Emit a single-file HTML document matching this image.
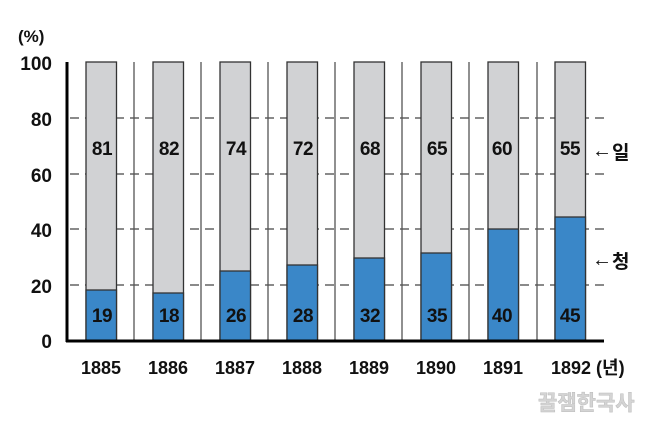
<!DOCTYPE html>
<html><head><meta charset="utf-8"><style>
html,body{margin:0;padding:0;background:#fff;}
svg{display:block;}
text{font-family:"Liberation Sans","Noto Sans CJK KR",sans-serif;font-weight:bold;fill:#111;}
</style></head><body>
<svg width="651" height="427" viewBox="0 0 651 427" xmlns="http://www.w3.org/2000/svg">
<g stroke="#444" stroke-width="1.3" stroke-dasharray="9,6">
<line x1="70" y1="118" x2="604" y2="118"/>
<line x1="70" y1="174" x2="604" y2="174"/>
<line x1="70" y1="229" x2="604" y2="229"/>
<line x1="70" y1="285" x2="604" y2="285"/>
</g>
<g stroke="#555" stroke-width="1.3">
<line x1="134" y1="62" x2="134" y2="341"/>
<line x1="201" y1="62" x2="201" y2="341"/>
<line x1="268" y1="62" x2="268" y2="341"/>
<line x1="335" y1="62" x2="335" y2="341"/>
<line x1="402" y1="62" x2="402" y2="341"/>
<line x1="469" y1="62" x2="469" y2="341"/>
<line x1="537" y1="62" x2="537" y2="341"/>
</g>
<g stroke="#333" stroke-width="1.3">
<rect x="86" y="62" width="30.5" height="279" fill="#d1d2d4"/><rect x="86" y="290" width="30.5" height="51" fill="#3a87c8"/>
<rect x="153" y="62" width="30.5" height="279" fill="#d1d2d4"/><rect x="153" y="293" width="30.5" height="48" fill="#3a87c8"/>
<rect x="220" y="62" width="30.5" height="279" fill="#d1d2d4"/><rect x="220" y="271" width="30.5" height="70" fill="#3a87c8"/>
<rect x="287" y="62" width="30.5" height="279" fill="#d1d2d4"/><rect x="287" y="265" width="30.5" height="76" fill="#3a87c8"/>
<rect x="354" y="62" width="30.5" height="279" fill="#d1d2d4"/><rect x="354" y="258" width="30.5" height="83" fill="#3a87c8"/>
<rect x="421" y="62" width="30.5" height="279" fill="#d1d2d4"/><rect x="421" y="253" width="30.5" height="88" fill="#3a87c8"/>
<rect x="488" y="62" width="30.5" height="279" fill="#d1d2d4"/><rect x="488" y="229" width="30.5" height="112" fill="#3a87c8"/>
<rect x="555" y="62" width="30.5" height="279" fill="#d1d2d4"/><rect x="555" y="217" width="30.5" height="124" fill="#3a87c8"/>
</g>
<line x1="67" y1="62" x2="67" y2="342" stroke="#000" stroke-width="3"/>
<line x1="66" y1="341" x2="604" y2="341" stroke="#000" stroke-width="3"/>
<g font-size="19" text-anchor="end">
<text x="52" y="70">100</text><text x="52" y="126">80</text><text x="52" y="182">60</text>
<text x="52" y="237">40</text><text x="52" y="293">20</text><text x="52" y="348">0</text>
</g>
<text x="18" y="42" font-size="17">(%)</text>
<g font-size="19" text-anchor="middle" style="letter-spacing:-0.5px">
<text x="102" y="155">81</text><text x="169" y="155">82</text><text x="236" y="155">74</text><text x="303" y="155">72</text>
<text x="370" y="155">68</text><text x="437" y="155">65</text><text x="502" y="155">60</text><text x="570" y="155">55</text>
<text x="102" y="322">19</text><text x="169" y="322">18</text><text x="236" y="322">26</text><text x="303" y="322">28</text>
<text x="370" y="322">32</text><text x="437" y="322">35</text><text x="502" y="322">40</text><text x="570" y="322">45</text>
</g>
<g font-size="18" text-anchor="middle">
<text x="101" y="374">1885</text><text x="168" y="374">1886</text><text x="235" y="374">1887</text><text x="302" y="374">1888</text>
<text x="369" y="374">1889</text><text x="436" y="374">1890</text><text x="503" y="374">1891</text>
</g>
<text x="551" y="374" font-size="18">1892 (년)</text>
<text x="592" y="157" font-size="20" style="font-weight:normal">←</text>
<text x="612" y="159" font-size="19">일</text>
<text x="592" y="266" font-size="20" style="font-weight:normal">←</text>
<text x="612" y="268" font-size="19">청</text>
<text x="538" y="410" font-size="21" style="fill:#d4d4d4;stroke:#bbb;stroke-width:0.5">꿀잼한국사</text>
</svg>
</body></html>
